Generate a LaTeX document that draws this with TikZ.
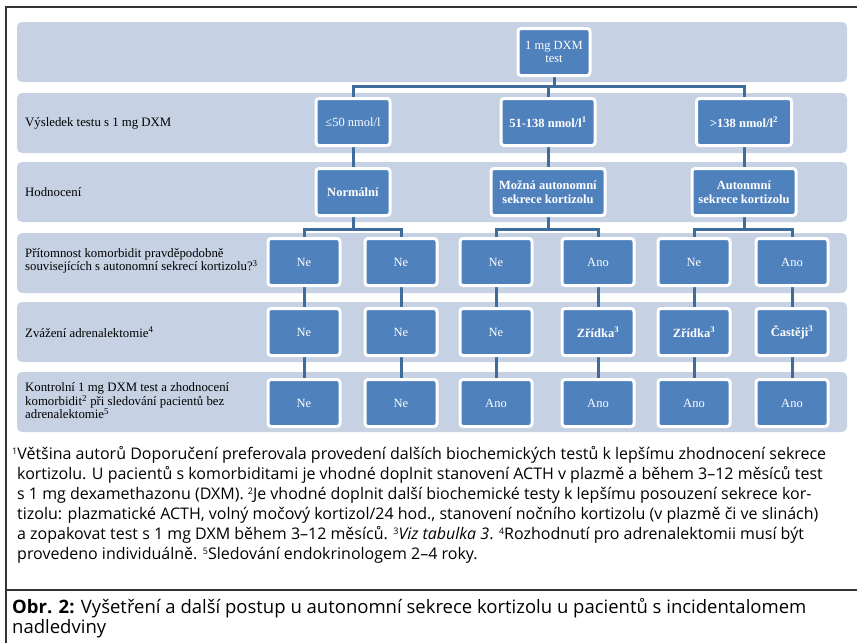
\documentclass[tikz,border=0pt]{standalone}
\usepackage{fontspec}
\setmainfont{Open Sans}
\newfontfamily\timesfont{Liberation Serif}
\usepackage{xcolor}
\usetikzlibrary{positioning,backgrounds}
\definecolor{bandcol}{RGB}{198,209,227}
\definecolor{boxcol}{RGB}{79,129,189}
\definecolor{linecol}{RGB}{62,109,156}
\newcommand{\fnmark}[1]{\raisebox{0.55ex}{\fontsize{9}{9}\selectfont #1}}

\begin{document}
\begin{tikzpicture}[x=1pt,y=-1pt]
    \tikzstyle{box_style} = [rectangle,rounded corners=3pt,fill=boxcol,draw=white,line width=3pt,text=white,font=\timesfont\fontsize{12.5}{13.5}\selectfont,align=center,minimum width=72pt,minimum height=47pt,inner sep=1pt]
    \tikzstyle{band_style} = [fill=bandcol,rounded corners=5pt]
    \tikzstyle{edge_style} = [draw=linecol,line width=3pt]
    \tikzstyle{label_style} = [anchor=west,align=left,font=\timesfont\fontsize{12.8}{13.5}\selectfont,inner sep=0pt]
    \tikzstyle{note_style} = [anchor=base west,inner sep=0pt,font=\fontsize{16}{18}\selectfont]
    \tikzstyle{caption_style} = [anchor=base west,inner sep=0pt,font=\fontsize{18.5}{20}\selectfont]
    \tikzstyle{frame_style} = [draw=black!80,line width=1.5pt]
    \useasboundingbox (0,0) rectangle (857,643);
        % frame
        \draw[frame_style] (6,643) -- (6,7) -- (857,7);
        \draw[frame_style] (6,590) -- (857,590);
        % row labels
        \node[label_style] (lres) at (25,123) {Výsledek testu s 1 mg DXM};
        \node[label_style] (lhod) at (25,192) {Hodnocení};
        \node[label_style] (lkom) at (25,261) {Přítomnost komorbidit pravděpodobně\\souvisejících s autonomní sekrecí kortizolu?\textsuperscript{3}};
        \node[label_style] (lzva) at (25,332) {Zvážení adrenalektomie\textsuperscript{4}};
        \node[label_style] (lkon) at (25,401) {Kontrolní 1 mg DXM test a zhodnocení\\komorbidit\textsuperscript{2} při sledování pacientů bez\\adrenalektomie\textsuperscript{5}};
        % boxes
        \node[box_style] (test) at (554,52) {1 mg DXM\\test};
        \node[box_style,minimum width=74pt] (low) at (353,122) {≤50 nmol/l};
        \node[box_style,minimum width=94pt] (mid) at (548,122) {\textbf{51-138 nmol/l\textsuperscript{1}}};
        \node[box_style,minimum width=95pt] (high) at (744,122) {\textbf{>138 nmol/l\textsuperscript{2}}};
        \node[box_style,minimum width=74pt] (norm) at (353,192) {\textbf{Normální}};
        \node[box_style,minimum width=114pt] (poss) at (548,192) {\textbf{Možná autonomní}\\\textbf{sekrece kortizolu}};
        \node[box_style,minimum width=104pt] (auto) at (744,192) {\textbf{Autonmní}\\\textbf{sekrece kortizolu}};
        \node[box_style] (q1) at (304,262) {Ne};
        \node[box_style] (q2) at (401,262) {Ne};
        \node[box_style] (q3) at (496,262) {Ne};
        \node[box_style] (q4) at (598,262) {Ano};
        \node[box_style] (q5) at (694,262) {Ne};
        \node[box_style] (q6) at (792,262) {Ano};
        \node[box_style] (z1) at (304,332) {Ne};
        \node[box_style] (z2) at (401,332) {Ne};
        \node[box_style] (z3) at (496,332) {Ne};
        \node[box_style] (z4) at (598,332) {\textbf{Zřídka\textsuperscript{3}}};
        \node[box_style] (z5) at (694,332) {\textbf{Zřídka\textsuperscript{3}}};
        \node[box_style] (z6) at (792,332) {\textbf{Častěji\textsuperscript{3}}};
        \node[box_style] (k1) at (304,403) {Ne};
        \node[box_style] (k2) at (401,403) {Ne};
        \node[box_style] (k3) at (496,403) {Ano};
        \node[box_style] (k4) at (598,403) {Ano};
        \node[box_style] (k5) at (694,403) {Ano};
        \node[box_style] (k6) at (792,403) {Ano};
        \coordinate (j0) at (554,86);
        \coordinate (j1) at (353,229);
        \coordinate (j2) at (548,229);
        \coordinate (j3) at (744,229);
        \begin{scope}[on background layer]
            \fill[band_style] (17,22) rectangle (847,82);
            \fill[band_style] (17,93) rectangle (847,153);
            \fill[band_style] (17,162) rectangle (847,222);
            \fill[band_style] (17,233) rectangle (847,293);
            \fill[band_style] (17,302) rectangle (847,362);
            \fill[band_style] (17,372) rectangle (847,432);
            \draw[edge_style] (test.south) -- (j0) -| (low.north);
            \draw[edge_style] (j0) -| (mid.north);
            \draw[edge_style] (j0) -| (high.north);
            \draw[edge_style] (low) -- (norm);
            \draw[edge_style] (mid) -- (poss);
            \draw[edge_style] (high) -- (auto);
            \draw[edge_style] (norm.south) -- (j1) -| (q1.north);
            \draw[edge_style] (j1) -| (q2.north);
            \draw[edge_style] (poss.south) -- (j2) -| (q3.north);
            \draw[edge_style] (j2) -| (q4.north);
            \draw[edge_style] (auto.south) -- (j3) -| (q5.north);
            \draw[edge_style] (j3) -| (q6.north);
            \foreach \i in {1,...,6}
                \draw[edge_style] (q\i) -- (z\i) -- (k\i);
        \end{scope}
        % notes
        \node[note_style] (n1) at (12,459) {\fnmark{1}Většina autorů Doporučení preferovala provedení dalších biochemických testů k lepšímu zhodnocení sekrece};
        \node[note_style] (n2) at (17,479) {kortizolu. U pacientů s komorbiditami je vhodné doplnit stanovení ACTH v plazmě a během 3–12 měsíců test};
        \node[note_style] (n3) at (17,499) {s 1 mg dexamethazonu (DXM). \fnmark{2}Je vhodné doplnit další biochemické testy k lepšímu posouzení sekrece kor-};
        \node[note_style] (n4) at (17,519) {tizolu: plazmatické ACTH, volný močový kortizol/24 hod., stanovení nočního kortizolu (v plazmě či ve slinách)};
        \node[note_style] (n5) at (17,539) {a zopakovat test s 1 mg DXM během 3–12 měsíců. \fnmark{3}\textit{Viz tabulka 3}. \fnmark{4}Rozhodnutí pro adrenalektomii musí být};
        \node[note_style] (n6) at (17,559) {provedeno individuálně. \fnmark{5}Sledování endokrinologem 2–4 roky.};
        \node[caption_style] (cap1) at (12,613) {\textbf{Obr. 2:} Vyšetření a další postup u autonomní sekrece kortizolu u pacientů s incidentalomem};
        \node[caption_style] (cap2) at (12,633) {nadledviny};
\end{tikzpicture}
\end{document}
